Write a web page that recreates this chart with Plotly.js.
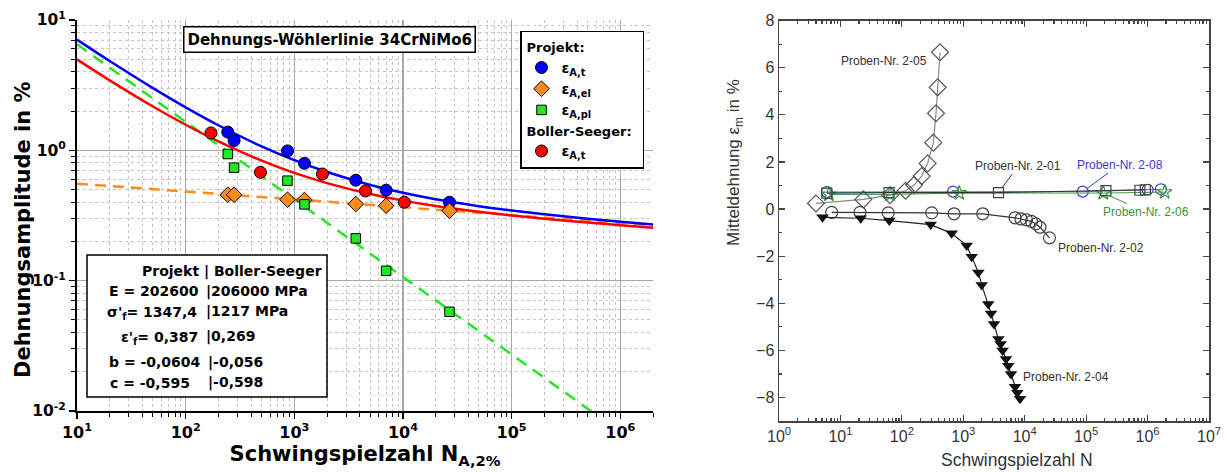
<!DOCTYPE html>
<html><head><meta charset="utf-8">
<script src="https://cdn.plot.ly/plotly-3.0.1.min.js"></script>
<style>html,body{margin:0;padding:0;background:#fff}#chart{width:1227px;height:472px}</style>
</head><body><div id="chart"></div>
<script>
// ---------- Left chart: strain-life curves ----------
const curveN = [10,20,50,100,200,500,1000,2000,5000,10000,20000,50000,100000,200000,500000,1000000,2000000];
const projektTotal   = [7.067,4.843,3.002,2.137,1.558,1.073,0.8405,0.6812,0.5425,0.4724,0.4213,0.3728,0.3452,0.3230,0.2991,0.2837,0.2701];
const projektElastic = [0.5551,0.5322,0.5035,0.4829,0.4631,0.4382,0.4201,0.4029,0.3812,0.3656,0.3506,0.3318,0.3181,0.3050,0.2887,0.2768,0.2655];
const projektPlastic = [6.512,4.311,2.498,1.654,1.095,0.6349,0.4204,0.2783,0.1613,0.1068,0.07071,0.04099,0.02714,0.01797,0.01041,0.006898,0.004567];
const bollerTotal    = [4.985,3.444,2.170,1.571,1.170,0.8336,0.6716,0.5600,0.4618,0.4113,0.3740,0.3376,0.3164,0.2989,0.2794,0.2667,0.2551];

// measured points
const projektN     = [244,279,865,1240,3680,7000,26800];
const projektEpsT  = [1.38,1.19,0.99,0.795,0.59,0.495,0.40];
const projektEpsEl = [0.456,0.456,0.418,0.416,0.387,0.376,0.344];
const projektEpsPl = [0.937,0.736,0.585,0.385,0.211,0.119,0.0577];
const bollerN      = [171,488,1815,4520,10300];
const bollerEpsT   = [1.36,0.678,0.658,0.488,0.40];

const leftXTickVals = [10,100,1000,10000,100000,1000000];
const leftXTickText = ['10<sup>1</sup>','10<sup>2</sup>','10<sup>3</sup>','10<sup>4</sup>','10<sup>5</sup>','10<sup>6</sup>'];
const leftYTickVals = [0.01,0.1,1,10];
const leftYTickText = ['10<sup>-2</sup>','10<sup>-1</sup>','10<sup>0</sup>','10<sup>1</sup>'];

// ---------- Right chart: mean strain vs cycles ----------
const n205 = [4,23.6,64,115,158,210,263,325,360,383,418];
const e205 = [0.24,0.41,0.59,0.78,1.02,1.40,1.94,2.82,4.07,5.17,6.66];
const n201 = [6,62,3740,210000,750000,920000];
const e201 = [0.68,0.70,0.70,0.78,0.80,0.82];
const n208 = [6,680,88000,1000000,1650000];
const e208 = [0.72,0.74,0.74,0.82,0.84];
const n206 = [6.5,64,860,190000,1900000];
const e206 = [0.62,0.62,0.68,0.68,0.72];
const n202 = [7.2,20.8,60,306,707,2070,6950,8700,10700,12900,15200,17700,25300];
const e202 = [-0.14,-0.14,-0.16,-0.16,-0.2,-0.2,-0.37,-0.42,-0.46,-0.52,-0.63,-0.77,-1.22];
const n204 = [5.1,21.4,62.5,295,646,1135,1370,1760,1995,2550,2830,3160,3720,4060,4370,4950,5400,5980,6950,7590,8380];
const e204 = [-0.35,-0.39,-0.49,-0.66,-1.03,-1.55,-2.02,-2.69,-3.22,-4.03,-4.43,-4.88,-5.52,-5.73,-6.01,-6.37,-6.65,-7.0,-7.55,-7.8,-8.05];

const rightXTickVals = [1,10,100,1000,10000,100000,1000000,10000000];
const rightXTickText = ['10<sup>0</sup>','10<sup>1</sup>','10<sup>2</sup>','10<sup>3</sup>','10<sup>4</sup>','10<sup>5</sup>','10<sup>6</sup>','10<sup>7</sup>'];

// ---------- helpers ----------
const W = 1227, H = 472;
const px = v => v / W;
const py = v => 1 - v / H;
function minorTicks(fromExp, toExp, maxVal) {
  const out = [];
  for (let e = fromExp; e < toExp; e++) {
    for (let d = 2; d <= 9; d++) {
      const v = d * Math.pow(10, e);
      if (v <= maxVal) out.push(v);
    }
  }
  return out;
}
const FB = 'DejaVu Sans';
const FA = 'Liberation Sans, Arial, sans-serif';
const boldFont = (s) => ({family: FB, size: s, color: '#000', weight: 'bold'});

const traces = [
  // left curves
  {x: curveN, y: projektPlastic, mode: 'lines', line: {color: '#22e822', width: 2.5, dash: '12px,8px'}, showlegend: false, hoverinfo: 'skip'},
  {x: curveN, y: projektElastic, mode: 'lines', line: {color: '#ff8c1a', width: 2.5, dash: '11px,7px'}, showlegend: false, hoverinfo: 'skip'},
  {x: curveN, y: bollerTotal, mode: 'lines', line: {color: '#ff0000', width: 2.5, shape: 'spline'}, showlegend: false, hoverinfo: 'skip'},
  {x: curveN, y: projektTotal, mode: 'lines', line: {color: '#0000ff', width: 2.5, shape: 'spline'}, showlegend: false, hoverinfo: 'skip'},
  // left markers
  {x: projektN, y: projektEpsT, mode: 'markers', name: 'ε<sub>A,t</sub>', legendgroup: 'p', legendgrouptitle: {text: 'Projekt:'},
   marker: {symbol: 'circle', size: 12, color: '#0000ff', line: {color: '#000', width: 1}}},
  {x: projektN, y: projektEpsEl, mode: 'markers', name: 'ε<sub>A,el</sub>', legendgroup: 'p',
   marker: {symbol: 'diamond', size: 12, color: '#ff8c1a', line: {color: '#000', width: 1}}},
  {x: projektN, y: projektEpsPl, mode: 'markers', name: 'ε<sub>A,pl</sub>', legendgroup: 'p',
   marker: {symbol: 'square', size: 9.5, color: '#22e822', line: {color: '#000', width: 1}}},
  {x: bollerN, y: bollerEpsT, mode: 'markers', name: 'ε<sub>A,t</sub>', legendgroup: 'b', legendgrouptitle: {text: 'Boller-Seeger:'},
   marker: {symbol: 'circle', size: 12, color: '#ff0000', line: {color: '#000', width: 1}}},
  // right chart
  {x: n205, y: e205, xaxis: 'x2', yaxis: 'y2', mode: 'lines+markers', showlegend: false,
   line: {color: '#8a8a8a', width: 1.2}, marker: {symbol: 'diamond-open', size: 13, color: '#555', line: {width: 1.2}}},
  {x: n208, y: e208, xaxis: 'x2', yaxis: 'y2', mode: 'lines+markers', showlegend: false,
   line: {color: '#5555cc', width: 1}, marker: {symbol: 'circle-open', size: 11, color: '#3b3bd0', line: {width: 1.2}}},
  {x: n206, y: e206, xaxis: 'x2', yaxis: 'y2', mode: 'lines+markers', showlegend: false,
   line: {color: '#4a9a4a', width: 1}, marker: {symbol: 'star-open', size: 11, color: '#3a963a', line: {width: 1.2}}},
  {x: n201, y: e201, xaxis: 'x2', yaxis: 'y2', mode: 'lines+markers', showlegend: false,
   line: {color: '#333', width: 1.2}, marker: {symbol: 'square-open', size: 10, color: '#444', line: {width: 1.2}}},
  {x: n202, y: e202, xaxis: 'x2', yaxis: 'y2', mode: 'lines+markers', showlegend: false,
   line: {color: '#333', width: 1.2}, marker: {symbol: 'circle-open', size: 12, color: '#444', line: {width: 1.2}}},
  {x: n204, y: e204, xaxis: 'x2', yaxis: 'y2', mode: 'lines+markers', showlegend: false,
   line: {color: '#222', width: 1.2}, marker: {symbol: 'triangle-down', size: 11, color: '#111'}}
];

const annFontR = {family: FA, size: 12, color: '#333'};
const annotations = [
  {xref: 'paper', yref: 'paper', x: px(329), y: py(39.5), text: 'Dehnungs-Wöhlerlinie 34CrNiMo6', showarrow: false,
   font: boldFont(15), bgcolor: '#fff', bordercolor: '#000', borderwidth: 1.5, borderpad: 3, xanchor: 'center', yanchor: 'middle'},
  // left y axis title
  {xref: 'paper', yref: 'paper', x: px(23), y: py(230), text: 'Dehnungsamplitude in %', showarrow: false, textangle: -90,
   font: boldFont(21), xanchor: 'center', yanchor: 'middle'},
  // parameter box
  {xref: 'paper', yref: 'paper', x: px(140), y: py(271.5), text: 'Projekt | Boller-Seeger', showarrow: false, font: boldFont(14), xanchor: 'left', yanchor: 'middle'},
  {xref: 'paper', yref: 'paper', x: px(107), y: py(291), text: 'E = 202600', showarrow: false, font: boldFont(14), xanchor: 'left', yanchor: 'middle'},
  {xref: 'paper', yref: 'paper', x: px(204), y: py(291), text: '|206000 MPa', showarrow: false, font: boldFont(14), xanchor: 'left', yanchor: 'middle'},
  {xref: 'paper', yref: 'paper', x: px(105), y: py(313), text: "σ'<sub>f</sub>= 1347,4", showarrow: false, font: boldFont(14), xanchor: 'left', yanchor: 'middle'},
  {xref: 'paper', yref: 'paper', x: px(204), y: py(311), text: '|1217 MPa', showarrow: false, font: boldFont(14), xanchor: 'left', yanchor: 'middle'},
  {xref: 'paper', yref: 'paper', x: px(119), y: py(338), text: "ε'<sub>f</sub>= 0,387", showarrow: false, font: boldFont(14), xanchor: 'left', yanchor: 'middle'},
  {xref: 'paper', yref: 'paper', x: px(204), y: py(336.5), text: '|0,269', showarrow: false, font: boldFont(14), xanchor: 'left', yanchor: 'middle'},
  {xref: 'paper', yref: 'paper', x: px(107), y: py(362), text: 'b = -0,0604', showarrow: false, font: boldFont(14), xanchor: 'left', yanchor: 'middle'},
  {xref: 'paper', yref: 'paper', x: px(206), y: py(362), text: '|-0,056', showarrow: false, font: boldFont(14), xanchor: 'left', yanchor: 'middle'},
  {xref: 'paper', yref: 'paper', x: px(108), y: py(382.5), text: 'c = -0,595', showarrow: false, font: boldFont(14), xanchor: 'left', yanchor: 'middle'},
  {xref: 'paper', yref: 'paper', x: px(206), y: py(382.5), text: '|-0,598', showarrow: false, font: boldFont(14), xanchor: 'left', yanchor: 'middle'},
  // right chart axis titles
  {xref: 'paper', yref: 'paper', x: px(1017), y: py(460), text: 'Schwingspielzahl N', showarrow: false,
   font: {family: FA, size: 17.5, color: '#333'}, xanchor: 'center', yanchor: 'middle'},
  {xref: 'paper', yref: 'paper', x: px(735), y: py(163), text: 'Mitteldehnung ε<sub>m</sub> in %', showarrow: false, textangle: -90,
   font: {family: FA, size: 17, color: '#333'}, xanchor: 'center', yanchor: 'middle'},
  // right chart labels
  {xref: 'paper', yref: 'paper', x: px(884), y: py(61), text: 'Proben-Nr. 2-05', showarrow: false, font: annFontR, xanchor: 'center', yanchor: 'middle'},
  {xref: 'x2', yref: 'y2', x: Math.log10(3740), y: 0.70, ax: 20, ay: -27, text: 'Proben-Nr. 2-01', showarrow: true, arrowhead: 0, arrowwidth: 1, arrowcolor: '#333', standoff: 6, font: annFontR},
  {xref: 'x2', yref: 'y2', x: Math.log10(88000), y: 0.74, ax: 37, ay: -27, text: 'Proben-Nr. 2-08', showarrow: true, arrowhead: 0, arrowwidth: 1, arrowcolor: '#3b3bd0', standoff: 6, font: {family: FA, size: 12, color: '#3b3bd0'}},
  {xref: 'x2', yref: 'y2', x: Math.log10(190000), y: 0.68, ax: 43, ay: 19, text: 'Proben-Nr. 2-06', showarrow: true, arrowhead: 0, arrowwidth: 1, arrowcolor: '#3a963a', standoff: 5, font: {family: FA, size: 12, color: '#3a963a'}},
  {xref: 'paper', yref: 'paper', x: px(1101), y: py(248), text: 'Proben-Nr. 2-02', showarrow: false, font: annFontR, xanchor: 'center', yanchor: 'middle'},
  {xref: 'paper', yref: 'paper', x: px(1066), y: py(377), text: 'Proben-Nr. 2-04', showarrow: false, font: annFontR, xanchor: 'center', yanchor: 'middle'}
];

const shapes = [
  {type: 'rect', xref: 'paper', yref: 'paper', x0: px(87), x1: px(327), y0: py(397), y1: py(255),
   line: {color: '#000', width: 1.5}, fillcolor: '#fff', layer: 'above'}
];

const layout = {
  width: W, height: H,
  margin: {l: 0, r: 0, t: 0, b: 0},
  paper_bgcolor: '#fff', plot_bgcolor: '#fff',
  showlegend: true,
  legend: {x: px(644), xanchor: 'right', y: py(30.5), yanchor: 'top', bgcolor: '#fff', bordercolor: '#000', borderwidth: 1.5,
           font: boldFont(14), grouptitlefont: boldFont(13), tracegroupgap: 0, traceorder: 'grouped', itemwidth: 30},
  xaxis: {type: 'log', domain: [px(77), px(653)], range: [1, Math.log10(2e6)], anchor: 'y',
          tickmode: 'array', tickvals: leftXTickVals, ticktext: leftXTickText, ticks: 'outside', ticklen: 6, tickwidth: 1.5, tickcolor: '#000',
          showline: true, linecolor: '#000', linewidth: 2, showgrid: true, gridcolor: '#a8a8a8', gridwidth: 1.5, zeroline: false,
          minor: {tickmode: 'array', tickvals: minorTicks(1, 7, 2e6), ticks: 'outside', ticklen: 4, tickcolor: '#000', tickwidth: 1,
                  showgrid: true, gridcolor: '#c4c4c4', griddash: 'dot', gridwidth: 1},
          tickfont: boldFont(16),
          title: {text: 'Schwingspielzahl N<sub>A,2%</sub>', font: boldFont(21), standoff: 4}},
  yaxis: {type: 'log', domain: [py(411), py(20)], range: [-2, 1], anchor: 'x',
          tickmode: 'array', tickvals: leftYTickVals, ticktext: leftYTickText, ticks: 'outside', ticklen: 6, tickwidth: 1.5, tickcolor: '#000',
          showline: true, linecolor: '#000', linewidth: 2, showgrid: true, gridcolor: '#a8a8a8', gridwidth: 1.5, zeroline: false,
          minor: {tickmode: 'array', tickvals: minorTicks(-2, 1, 10), ticks: 'outside', ticklen: 4, tickcolor: '#000', tickwidth: 1,
                  showgrid: true, gridcolor: '#c4c4c4', griddash: 'dot', gridwidth: 1},
          tickfont: boldFont(15.5)},
  xaxis3: {type: 'log', overlaying: 'x', side: 'top', anchor: 'y', range: [1, Math.log10(2e6)],
           tickmode: 'array', tickvals: leftXTickVals, ticks: 'inside', ticklen: 6, tickcolor: '#000', showticklabels: false,
           showline: true, linecolor: '#000', linewidth: 1.5, showgrid: false, zeroline: false,
           minor: {tickmode: 'array', tickvals: minorTicks(1, 7, 2e6), ticks: 'inside', ticklen: 4, tickcolor: '#000', showgrid: false}},
  yaxis3: {type: 'log', overlaying: 'y', side: 'right', anchor: 'x', range: [-2, 1],
           tickmode: 'array', tickvals: leftYTickVals, ticks: 'inside', ticklen: 6, tickcolor: '#000', showticklabels: false,
           showline: true, linecolor: '#000', linewidth: 1.5, showgrid: false, zeroline: false,
           minor: {tickmode: 'array', tickvals: minorTicks(-2, 1, 10), ticks: 'inside', ticklen: 4, tickcolor: '#000', showgrid: false}},
  xaxis2: {type: 'log', domain: [px(779), px(1209)], range: [0, 7], anchor: 'y2',
           tickmode: 'array', tickvals: rightXTickVals, ticktext: rightXTickText, ticks: 'inside', ticklen: 6, tickwidth: 1.2, tickcolor: '#444',
           mirror: 'ticks', showline: true, linecolor: '#444', linewidth: 1.5, showgrid: false, zeroline: false,
           minor: {tickmode: 'array', tickvals: minorTicks(0, 7, 1e7), ticks: 'inside', ticklen: 3, tickcolor: '#444', showgrid: false},
           tickfont: {family: FA, size: 16, color: '#333'}},
  yaxis2: {domain: [py(421), py(20.7)], range: [-9, 8], anchor: 'x2', tickmode: 'linear', tick0: 0, dtick: 2,
           ticks: 'inside', ticklen: 6, tickwidth: 1.2, tickcolor: '#444', mirror: 'ticks', showline: true, linecolor: '#444', linewidth: 1.5,
           showgrid: false, zeroline: false,
           minor: {tickmode: 'linear', tick0: 1, dtick: 1, ticks: 'inside', ticklen: 3, tickcolor: '#444', showgrid: false},
           tickfont: {family: FA, size: 16, color: '#333'}},
  annotations: annotations,
  shapes: shapes
};

Plotly.newPlot('chart', traces, layout, {displayModeBar: false, staticPlot: true});
</script>
</body></html>
